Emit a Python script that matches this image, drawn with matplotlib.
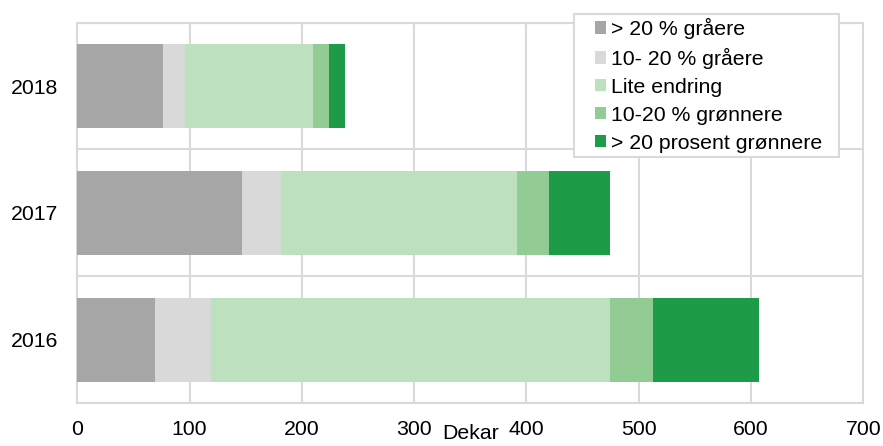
import matplotlib
matplotlib.use("Agg")
import matplotlib.pyplot as plt
from matplotlib.ticker import FixedLocator
from matplotlib.patches import Rectangle
import numpy as np

plt.rcParams['font.family'] = ['Liberation Sans', 'DejaVu Sans']

years = ['2016', '2017', '2018']
series_names = ['> 20 % gråere', '10- 20 % gråere', 'Lite endring',
                '10-20 % grønnere', '> 20 prosent grønnere']
gray_strong = [69, 147, 76]
gray_mild = [50, 34, 20]
little_change = [355, 211, 114]
green_mild = [39, 28, 14]
green_strong = [94, 54, 14]
colors = ['#A6A6A6', '#D9D9D9', '#BDE0BF', '#93CB94', '#1D9B48']
xticks = [0, 100, 200, 300, 400, 500, 600, 700]

grid_col = '#D9D9D9'
W, H = 883, 446

fig = plt.figure(figsize=(W / 100, H / 100), dpi=100)
ax = fig.add_axes([77.3 / W, 1 - 403 / H, 786 / W, 380.3 / H])

y = np.arange(len(years))
left = np.zeros(len(years))
for name, vals, c in zip(series_names,
                         [gray_strong, gray_mild, little_change, green_mild, green_strong],
                         colors):
    ax.barh(y, vals, left=left, height=0.663, color=c, label=name, zorder=3)
    left += np.array(vals)

ax.set_xlim(0, 700)
ax.set_ylim(-0.5, len(years) - 0.5)
ax.set_xticks(xticks)
ax.set_xticklabels([str(t) for t in xticks])
ax.set_yticks(y)
ax.set_yticklabels(years)
ax.yaxis.set_minor_locator(FixedLocator(np.arange(-0.5, len(years), 1.0)))

ax.grid(axis='x', which='major', color=grid_col, lw=1.5, zorder=0)
ax.grid(axis='y', which='minor', color=grid_col, lw=1.5, zorder=0)
ax.tick_params(axis='both', which='both', length=0, labelsize=15.3)
ax.tick_params(axis='x', pad=12)
ax.tick_params(axis='y', pad=13.5)
for s in ax.spines.values():
    s.set_color(grid_col)
    s.set_linewidth(1.5)

ax.set_xlabel('Dekar', fontsize=15.3)
ax.xaxis.set_label_coords(0.5, -0.056)
ax.xaxis.label.set_va('top')

# legend box drawn separately so the inner padding can differ per side
fig.patches.append(Rectangle((574 / W, 1 - 157 / H), 265 / W, 143 / H,
                             transform=fig.transFigure, facecolor='white',
                             edgecolor=grid_col, lw=1.5, zorder=5))
leg = fig.legend(loc='upper left', bbox_to_anchor=(595 / W, 1 - 18 / H),
                 fontsize=15.3, frameon=False,
                 handlelength=0.5, handleheight=0.5, handletextpad=0.25,
                 labelspacing=0.42, borderpad=0, borderaxespad=0)
leg.set_zorder(6)

fig.savefig('out.png', dpi=100)
